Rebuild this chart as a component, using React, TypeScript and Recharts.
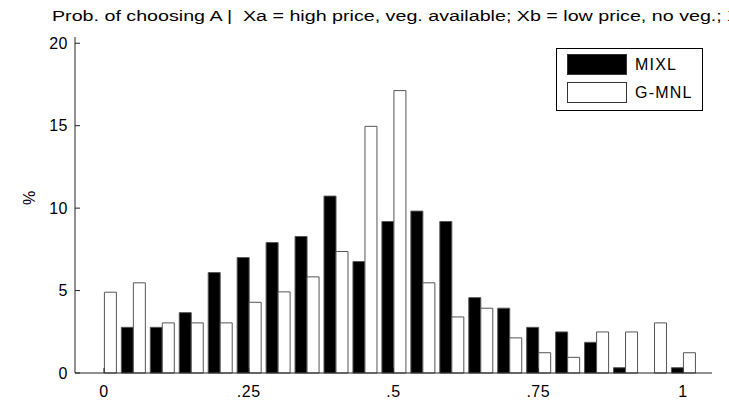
import {
  Bar,
  BarChart,
  Legend,
  XAxis,
  YAxis,
} from "recharts";

// histogram bins (centres) and the two simulated distributions, in %
const BINS = [
  "0", "0.05", "0.1", "0.15", "0.2", "0.25", "0.3", "0.35", "0.4", "0.45", "0.5",
  "0.55", "0.6", "0.65", "0.7", "0.75", "0.8", "0.85", "0.9", "0.95", "1",
];
const MIXL = [
  0, 2.77, 2.77, 3.66, 6.09, 7.0, 7.91, 8.28, 10.73, 6.76, 9.19,
  9.82, 9.19, 4.57, 3.93, 2.77, 2.49, 1.86, 0.32, 0, 0.32,
];
const GMNL = [
  4.9, 5.47, 3.04, 3.04, 3.04, 4.29, 4.92, 5.83, 7.37, 14.96, 17.13,
  5.47, 3.4, 3.93, 2.13, 1.23, 0.95, 2.49, 2.49, 3.04, 1.23,
];
const X_TICK_LABELS: Record<string, string> = {
  "0": "0",
  "0.25": ".25",
  "0.5": ".5",
  "0.75": ".75",
  "1": "1",
};
const Y_TICKS = [0, 5, 10, 15, 20];

const TITLE =
  "Prob. of choosing A |  Xa = high price, veg. available; Xb = low price, no veg.; X*";

const FONT = "'Liberation Sans', Arial, Helvetica, sans-serif";
const AXIS = "#222";
const TEXT = { fill: "#000", fontSize: 16, letterSpacing: 0.5 };

const data = BINS.map((bin, i) => ({ bin, mixl: MIXL[i], gmnl: GMNL[i] }));

function LegendBox() {
  const row = (fill: string, label: string, top: number) => (
    <div style={{ display: "flex", alignItems: "center", height: 21, marginTop: top }}>
      <div
        style={{
          width: 60,
          height: 21,
          boxSizing: "border-box",
          background: fill,
          border: "1px solid #333",
        }}
      />
      <span style={{ marginLeft: 8, fontSize: 16, letterSpacing: 1.2, color: "#000" }}>
        {label}
      </span>
    </div>
  );
  return (
    <div
      style={{
        width: 147,
        height: 63,
        boxSizing: "border-box",
        border: "1px solid #000",
        background: "#fff",
        padding: "5px 0 0 10px",
        fontFamily: FONT,
      }}
    >
      {row("#000", "MIXL", 0)}
      {row("#fff", "G-MNL", 7)}
    </div>
  );
}

export default function App() {
  return (
    <div style={{ position: "absolute", left: 0, top: 0, width: 729, height: 409, background: "#fff", overflow: "hidden" }}>
      <svg
        width={729}
        height={30}
        style={{ position: "absolute", left: 0, top: 0 }}
      >
        {/* the original figure is stretched sideways, hence textLength */}
        <text
          x={52}
          y={21}
          fontSize={15.5}
          fontFamily={FONT}
          fill="#000"
          textLength={696}
          lengthAdjust="spacingAndGlyphs"
          style={{ whiteSpace: "pre" }}
        >
          {TITLE}
        </text>
      </svg>
      <BarChart
        width={729}
        height={409}
        data={data}
        margin={{ top: 37, right: 17, bottom: 0, left: 30 }}
        barCategoryGap="10%"
        barGap={0}
        style={{ fontFamily: FONT }}
      >
        <XAxis
          dataKey="bin"
          interval={4}
          height={36}
          padding={{ left: 14.5, right: 14.5 }}
          tickFormatter={(v) => X_TICK_LABELS[String(v)] ?? ""}
          tickSize={-5}
          tickMargin={18}
          axisLine={{ stroke: AXIS }}
          tickLine={{ stroke: AXIS }}
          tick={TEXT}
        />
        <XAxis
          xAxisId="top"
          orientation="top"
          dataKey="bin"
          interval={4}
          height={0}
          padding={{ left: 14.5, right: 14.5 }}
          tickFormatter={() => ""}
          tickSize={-5}
          axisLine={{ stroke: AXIS }}
          tickLine={{ stroke: AXIS }}
        />
        <YAxis
          domain={[0, 20.38]}
          ticks={Y_TICKS}
          width={45}
          tickSize={-5}
          tickMargin={12}
          axisLine={{ stroke: AXIS }}
          tickLine={{ stroke: AXIS }}
          tick={TEXT}
          label={{
            value: "%",
            angle: -90,
            position: "insideLeft",
            offset: -1,
            style: TEXT,
          }}
        />
        <YAxis
          yAxisId="right"
          orientation="right"
          domain={[0, 20.38]}
          ticks={Y_TICKS}
          width={0}
          tickSize={-5}
          tickFormatter={() => ""}
          axisLine={{ stroke: AXIS }}
          tickLine={{ stroke: AXIS }}
        />
        <Legend
          layout="horizontal"
          verticalAlign="middle"
          align="center"
          content={() => <LegendBox />}
          wrapperStyle={{ position: "absolute", left: 556, top: 48, width: 147 }}
        />
        <Bar
          dataKey="mixl"
          name="MIXL"
          fill="#000"
          stroke="#555"
          strokeWidth={1}
          isAnimationActive={false}
        />
        <Bar
          dataKey="gmnl"
          name="G-MNL"
          fill="#fff"
          stroke="#555"
          strokeWidth={1}
          isAnimationActive={false}
        />
      </BarChart>
    </div>
  );
}
